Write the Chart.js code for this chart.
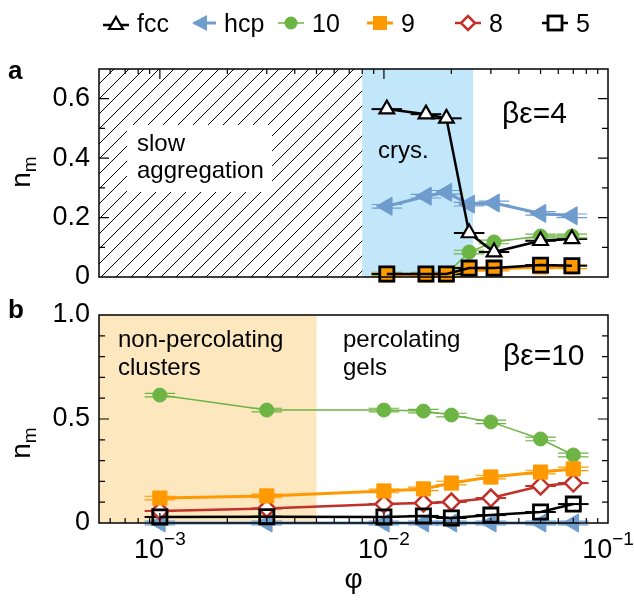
<!DOCTYPE html>
<html lang="en">
<head>
<meta charset="UTF-8">
<title>n_m versus phi</title>
<script src="https://cdn.jsdelivr.net/npm/chart.js"></script>
<style>
  body { margin: 0; background: #fff; font-family: "Liberation Sans", Arial, sans-serif; }
  #wrap { position: relative; width: 634px; height: 604px; }
  canvas { position: absolute; left: 0; top: 0; }
  .item { position: absolute; top: 9px; height: 28px; display: flex; align-items: center; font-size: 25px; color: #000; }
  .item svg { margin-right: 8px; }
</style>
</head>
<body>
<div id="wrap">
  <canvas id="panelA" width="634" height="604"></canvas>
  <canvas id="panelB" width="634" height="604"></canvas>
  <div class="item" style="left:103px"><svg width="26" height="20"><line x1="0" y1="12" x2="26" y2="12" stroke="#000" stroke-width="2.5"/><polygon points="13,4 20,16 6,16" fill="#fff" stroke="#000" stroke-width="2.2"/></svg>fcc</div>
  <div class="item" style="left:190px"><svg width="26" height="20"><line x1="4" y1="10" x2="26" y2="10" stroke="#6e9ccd" stroke-width="3"/><polygon points="2,10 17,2 17,18" fill="#6e9ccd"/></svg>hcp</div>
  <div class="item" style="left:278px"><svg width="26" height="20"><line x1="0" y1="10" x2="26" y2="10" stroke="#6cb443" stroke-width="1.5"/><circle cx="13" cy="10" r="6.5" fill="#6cb443"/></svg>10</div>
  <div class="item" style="left:367px"><svg width="26" height="20"><line x1="0" y1="10" x2="26" y2="10" stroke="#ff9900" stroke-width="3"/><rect x="6" y="3" width="14" height="14" fill="#ff9900"/></svg>9</div>
  <div class="item" style="left:455px"><svg width="26" height="20"><line x1="0" y1="10" x2="26" y2="10" stroke="#c1312b" stroke-width="2.5"/><polygon points="13,3 20,10 13,17 6,10" fill="#fff" stroke="#c1312b" stroke-width="2.5"/></svg>8</div>
  <div class="item" style="left:542px"><svg width="26" height="20"><line x1="0" y1="10" x2="26" y2="10" stroke="#000" stroke-width="2.5"/><rect x="6" y="3" width="14" height="14" fill="#fff" stroke="#000" stroke-width="2.8"/></svg>5</div>
</div>
<script>
// panel a: beta*eps = 4
const phiA = [0.0103, 0.0154, 0.019, 0.024, 0.031, 0.05, 0.069];
const fccA = [0.565, 0.548, 0.534, 0.148, 0.084, 0.122, 0.128];
const hcpA = [0.238, 0.272, 0.285, 0.245, 0.249, 0.214, 0.206];
const n10A = [0.01, 0.01, 0.01, 0.084, 0.118, 0.138, 0.138];
const n9A  = [0.007, 0.007, 0.007, 0.027, 0.027, 0.034, 0.034];
const n5A  = [0.01, 0.01, 0.01, 0.03, 0.03, 0.04, 0.038];

// panel b: beta*eps = 10
const phiB = [0.001, 0.003, 0.01, 0.015, 0.02, 0.03, 0.05, 0.07];
const hcpB = [0, 0, 0, 0, 0, 0, 0, 0];
const n10B = [0.615, 0.543, 0.543, 0.538, 0.519, 0.486, 0.404, 0.327];
const n9B  = [0.12, 0.13, 0.154, 0.164, 0.192, 0.221, 0.245, 0.26];
const n8B  = [0.058, 0.07, 0.091, 0.096, 0.101, 0.12, 0.178, 0.192];
const n5B  = [0.029, 0.03, 0.029, 0.034, 0.024, 0.038, 0.053, 0.091];

// region boundaries on the phi axis
const slowEnd = 0.008, crysEnd = 0.025, nonPercEnd = 0.005;
const xErr = 1.17;   // horizontal error bar (factor)
const PHI_MIN = 5.35e-4, PHI_MAX = 0.1;
const FONT = '"Liberation Sans", Arial, sans-serif';

// lower order = drawn on top
const styles = {
  fcc: { color: '#000', fill: '#fff', shape: 'triangle', r: 8.5, lw: 2.5, pbw: 2.2, rot: 0, order: 1, dbl: false },
  hcp: { color: '#6e9ccd', fill: '#6e9ccd', shape: 'triangle', r: 10.5, lw: 3, pbw: 1, rot: -90, order: 5, dbl: true },
  '10': { color: '#6cb443', fill: '#6cb443', shape: 'circle', r: 7, lw: 1.5, pbw: 1, rot: 0, order: 3, dbl: true },
  '9': { color: '#ff9900', fill: '#ff9900', shape: 'rect', r: 10, lw: 3, pbw: 1, rot: 0, order: 2, dbl: true },
  '8': { color: '#c1312b', fill: '#fff', shape: 'rectRot', r: 8.5, lw: 2.5, pbw: 2.5, rot: 0, order: 4, dbl: false },
  '5': { color: '#000', fill: 'rgba(0,0,0,0)', shape: 'rect', r: 10, lw: 2.5, pbw: 2.8, rot: 0, order: 0, dbl: false }
};

function ds(name, xs, ys) {
  const s = styles[name];
  return {
    label: name,
    data: xs.map((x, i) => ({ x: x, y: ys[i] })),
    borderColor: s.color,
    backgroundColor: s.fill,
    pointBackgroundColor: s.fill,
    pointBorderColor: s.color,
    pointStyle: s.shape,
    pointRadius: s.r,
    pointBorderWidth: s.pbw,
    pointRotation: s.rot,
    borderWidth: s.lw,
    tension: 0,
    clip: false,
    order: s.order,
    dbl: s.dbl
  };
}

function errorBars(chart) {
  const ctx = chart.ctx, x = chart.scales.x;
  chart.data.datasets.forEach((d, i) => {
    const meta = chart.getDatasetMeta(i);
    ctx.save();
    ctx.strokeStyle = d.borderColor;
    meta.data.forEach((pt, j) => {
      const xv = d.data[j].x;
      const x1 = x.getPixelForValue(xv / xErr), x2 = x.getPixelForValue(xv * xErr);
      ctx.beginPath();
      if (d.dbl) {
        ctx.lineWidth = 1.2;
        ctx.moveTo(x1, pt.y - 1.8); ctx.lineTo(x2, pt.y - 1.8);
        ctx.moveTo(x1, pt.y + 1.8); ctx.lineTo(x2, pt.y + 1.8);
      } else {
        ctx.lineWidth = 2;
        ctx.moveTo(x1, pt.y); ctx.lineTo(x2, pt.y);
      }
      ctx.stroke();
    });
    ctx.restore();
  });
}

function frameTicks(chart, yMajorEvery, xSide) {
  const { ctx, chartArea: a, scales: { x, y } } = chart;
  ctx.save();
  ctx.strokeStyle = '#000';
  ctx.lineWidth = 1.2;
  ctx.beginPath();
  const n = Math.round(y.max / 0.1);
  for (let i = 1; i < n; i++) {
    const py = y.getPixelForValue(i * 0.1);
    const len = i % yMajorEvery === 0 ? 10 : 6;
    ctx.moveTo(a.left, py); ctx.lineTo(a.left + len, py);
    ctx.moveTo(a.right, py); ctx.lineTo(a.right - len, py);
  }
  for (let d = -4; d <= -1; d++) {
    for (let k = 1; k <= 9; k++) {
      const v = k * Math.pow(10, d);
      if (v <= x.min || v >= x.max) continue;
      const px = x.getPixelForValue(v);
      const len = k === 1 ? 10 : 5;
      if (xSide === 'top') { ctx.moveTo(px, a.top); ctx.lineTo(px, a.top + len); }
      else { ctx.moveTo(px, a.bottom); ctx.lineTo(px, a.bottom - len); }
    }
  }
  ctx.stroke();
  ctx.lineWidth = 1.5;
  ctx.strokeRect(a.left, a.top, a.right - a.left, a.bottom - a.top);
  ctx.restore();
}

function yTitle(ctx, cx, cy) {
  ctx.save();
  ctx.translate(cx, cy);
  ctx.rotate(-Math.PI / 2);
  ctx.fillStyle = '#000';
  ctx.textBaseline = 'alphabetic';
  ctx.font = '28px ' + FONT;
  const wn = ctx.measureText('n').width;
  ctx.font = '19px ' + FONT;
  const wm = ctx.measureText('m').width;
  const x0 = -(wn + wm) / 2;
  ctx.font = '28px ' + FONT;
  ctx.fillText('n', x0, 8);
  ctx.font = '19px ' + FONT;
  ctx.fillText('m', x0 + wn, 14);
  ctx.restore();
}

function text(ctx, str, x, y, size, bold) {
  ctx.font = (bold ? 'bold ' : '') + size + 'px ' + FONT;
  ctx.fillStyle = '#000';
  ctx.textAlign = 'left';
  ctx.textBaseline = 'alphabetic';
  ctx.fillText(str, x, y);
}

const decorA = {
  id: 'decorA',
  beforeDatasetsDraw(chart) {
    const { ctx, chartArea: a, scales: { x } } = chart;
    const xs = x.getPixelForValue(slowEnd), xc = x.getPixelForValue(crysEnd);
    ctx.save();
    ctx.fillStyle = '#c3e7fa';
    ctx.fillRect(xs, a.top, xc - xs, a.bottom - a.top);
    ctx.beginPath();
    ctx.rect(a.left, a.top, xs - a.left, a.bottom - a.top);
    ctx.clip();
    ctx.strokeStyle = '#000';
    ctx.lineWidth = 1;
    ctx.beginPath();
    const h = a.bottom - a.top;
    for (let k = -h; k < xs - a.left; k += 15) {
      ctx.moveTo(a.left + k, a.bottom);
      ctx.lineTo(a.left + k + h, a.top);
    }
    ctx.stroke();
    ctx.restore();
    ctx.save();
    ctx.fillStyle = '#fff';
    ctx.fillRect(127, 125, 145, 67);
    text(ctx, 'slow', 137, 151, 24);
    text(ctx, 'aggregation', 137, 178, 24);
    text(ctx, 'crys.', 378, 158, 24);
    text(ctx, 'βε=4', 502, 123, 30);
    ctx.restore();
    errorBars(chart);
  },
  afterDraw(chart) {
    const ctx = chart.ctx;
    frameTicks(chart, 2, 'top');
    ctx.save();
    text(ctx, 'a', 8, 79, 26, true);
    yTitle(ctx, 22, 172);
    ctx.restore();
  }
};

const decorB = {
  id: 'decorB',
  beforeDatasetsDraw(chart) {
    const { ctx, chartArea: a, scales: { x } } = chart;
    const xn = x.getPixelForValue(nonPercEnd);
    ctx.save();
    ctx.fillStyle = '#fde7bf';
    ctx.fillRect(a.left, a.top, xn - a.left, a.bottom - a.top);
    text(ctx, 'non-percolating', 118, 347, 24);
    text(ctx, 'clusters', 118, 375, 24);
    text(ctx, 'percolating', 343, 347, 24);
    text(ctx, 'gels', 343, 375, 24);
    text(ctx, 'βε=10', 503, 365, 30);
    ctx.restore();
    errorBars(chart);
  },
  afterDraw(chart) {
    const { ctx, chartArea: a, scales: { x } } = chart;
    frameTicks(chart, 5, 'bottom');
    ctx.save();
    ctx.fillStyle = '#000';
    ctx.textBaseline = 'alphabetic';
    [-3, -2, -1].forEach(d => {
      const px = x.getPixelForValue(Math.pow(10, d));
      ctx.font = '27px ' + FONT;
      const w1 = ctx.measureText('10').width;
      ctx.font = '19px ' + FONT;
      const w2 = ctx.measureText('−' + (-d)).width;
      const x0 = px - (w1 + w2) / 2;
      ctx.font = '27px ' + FONT;
      ctx.fillText('10', x0, 558);
      ctx.font = '19px ' + FONT;
      ctx.fillText('−' + (-d), x0 + w1, 545);
    });
    ctx.font = '28px ' + FONT;
    ctx.textAlign = 'center';
    ctx.fillText('φ', (a.left + a.right) / 2, 588);
    ctx.textAlign = 'left';
    text(ctx, 'b', 8, 318, 26, true);
    yTitle(ctx, 22, 443);
    ctx.restore();
  }
};

function makeChart(id, datasets, yMax, majorEvery, padding, decor) {
  return new Chart(document.getElementById(id), {
    type: 'line',
    data: { datasets: datasets },
    options: {
      responsive: false,
      animation: false,
      layout: { padding: padding },
      plugins: { legend: { display: false }, tooltip: { enabled: false } },
      scales: {
        x: { type: 'logarithmic', min: PHI_MIN, max: PHI_MAX, display: false },
        y: {
          min: 0, max: yMax,
          afterFit: s => { s.width = 99; },
          grid: { display: false, drawTicks: false },
          border: { display: false },
          ticks: {
            stepSize: 0.1, autoSkip: false, padding: 9, color: '#000',
            font: { size: 27, family: FONT },
            callback: v => {
              const r = Math.round(v * 10);
              if (r % majorEvery !== 0) return '';
              return r === 0 ? '0' : (r / 10).toFixed(1);
            }
          }
        }
      }
    },
    plugins: [decor]
  });
}

makeChart('panelA', [
  ds('fcc', phiA, fccA),
  ds('hcp', phiA, hcpA),
  ds('10', phiA, n10A),
  ds('9', phiA, n9A),
  ds('5', phiA, n5A)
], 0.7, 2, { left: 0, right: 26, top: 69, bottom: 327 }, decorA);

makeChart('panelB', [
  ds('hcp', phiB, hcpB),
  ds('10', phiB, n10B),
  ds('9', phiB, n9B),
  ds('8', phiB, n8B),
  ds('5', phiB, n5B)
], 1.0, 5, { left: 0, right: 26, top: 315, bottom: 81 }, decorB);
</script>
</body>
</html>
